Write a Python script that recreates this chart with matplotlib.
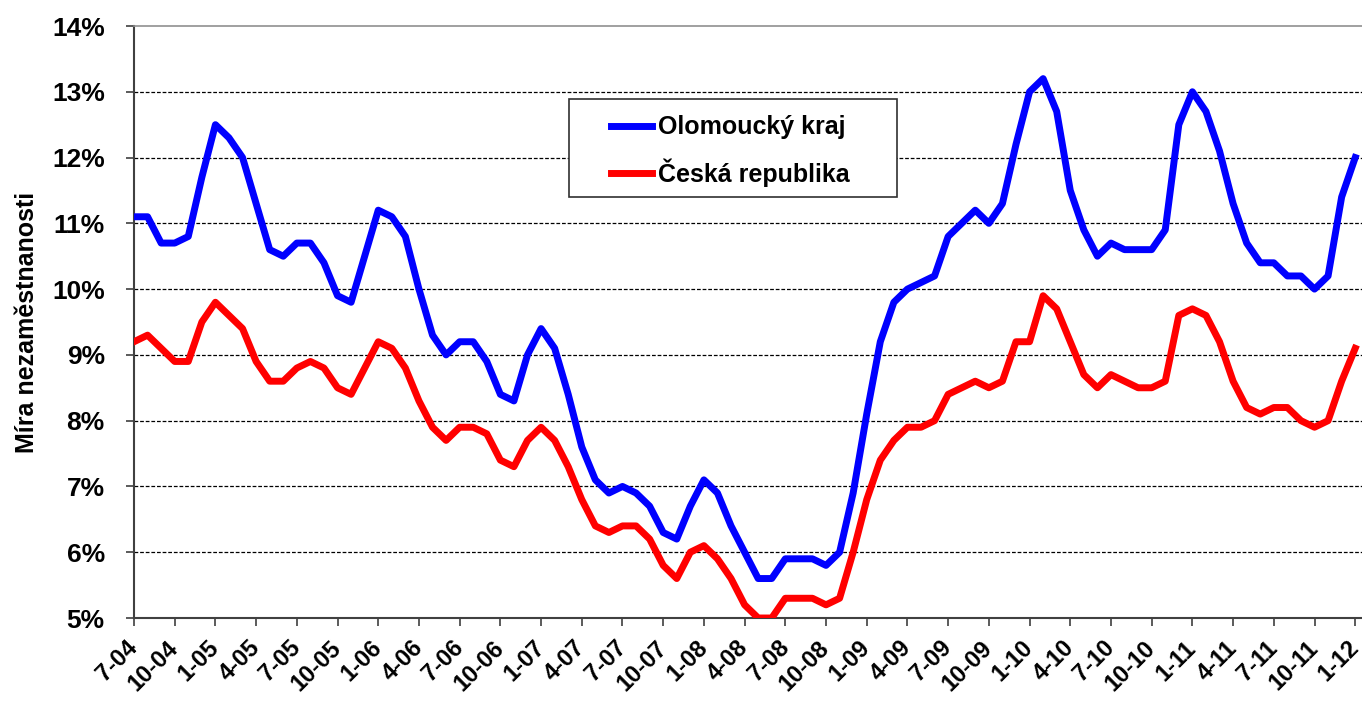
import matplotlib.pyplot as plt
import matplotlib.patches as mpatches
import numpy as np

plt.rcParams['font.family'] = ['Liberation Sans', 'DejaVu Sans']
plt.rcParams['font.weight'] = 'bold'

# monthly values 7-04 .. 1-12 (%)
olomoucky = [11.1, 11.1, 10.7, 10.7, 10.8, 11.7, 12.5, 12.3, 12.0, 11.3,
             10.6, 10.5, 10.7, 10.7, 10.4, 9.9, 9.8, 10.5, 11.2, 11.1,
             10.8, 10.0, 9.3, 9.0, 9.2, 9.2, 8.9, 8.4, 8.3, 9.0,
             9.4, 9.1, 8.4, 7.6, 7.1, 6.9, 7.0, 6.9, 6.7, 6.3,
             6.2, 6.7, 7.1, 6.9, 6.4, 6.0, 5.6, 5.6, 5.9, 5.9,
             5.9, 5.8, 6.0, 6.9, 8.1, 9.2, 9.8, 10.0, 10.1, 10.2,
             10.8, 11.0, 11.2, 11.0, 11.3, 12.2, 13.0, 13.2, 12.7, 11.5,
             10.9, 10.5, 10.7, 10.6, 10.6, 10.6, 10.9, 12.5, 13.0, 12.7,
             12.1, 11.3, 10.7, 10.4, 10.4, 10.2, 10.2, 10.0, 10.2, 11.4,
             12.0]
cr = [9.2, 9.3, 9.1, 8.9, 8.9, 9.5, 9.8, 9.6, 9.4, 8.9,
      8.6, 8.6, 8.8, 8.9, 8.8, 8.5, 8.4, 8.8, 9.2, 9.1,
      8.8, 8.3, 7.9, 7.7, 7.9, 7.9, 7.8, 7.4, 7.3, 7.7,
      7.9, 7.7, 7.3, 6.8, 6.4, 6.3, 6.4, 6.4, 6.2, 5.8,
      5.6, 6.0, 6.1, 5.9, 5.6, 5.2, 5.0, 5.0, 5.3, 5.3,
      5.3, 5.2, 5.3, 6.0, 6.8, 7.4, 7.7, 7.9, 7.9, 8.0,
      8.4, 8.5, 8.6, 8.5, 8.6, 9.2, 9.2, 9.9, 9.7, 9.2,
      8.7, 8.5, 8.7, 8.6, 8.5, 8.5, 8.6, 9.6, 9.7, 9.6,
      9.2, 8.6, 8.2, 8.1, 8.2, 8.2, 8.0, 7.9, 8.0, 8.6,
      9.1]
tick_labels = ['7-04', '10-04', '1-05', '4-05', '7-05', '10-05', '1-06', '4-06',
               '7-06', '10-06', '1-07', '4-07', '7-07', '10-07', '1-08', '4-08',
               '7-08', '10-08', '1-09', '4-09', '7-09', '10-09', '1-10', '4-10',
               '7-10', '10-10', '1-11', '4-11', '7-11', '10-11', '1-12']

x = np.arange(len(olomoucky))

fig = plt.figure(figsize=(13.62, 7.02), dpi=100)
ax = fig.add_axes([134 / 1362, 1 - 618 / 702, 1 - 134 / 1362, (618 - 26) / 702])

for yv in range(6, 14):
    ax.axhline(yv, color='black', lw=0.9, ls=(0, (3, 1.5)), zorder=1)

ax.plot(x, olomoucky, color='#0000ff', lw=5, label='Olomoucký kraj', zorder=3)
ax.plot(x, cr, color='#ff0000', lw=5, label='Česká republika', zorder=3)

ax.set_xlim(0, 90.5)
ax.set_ylim(5, 14)
ax.set_yticks(range(5, 15))
ax.set_yticklabels([f'{v}%' for v in range(5, 15)], fontsize=19, fontweight='bold')
ax.set_xticks(np.arange(0, 91, 3))
ax.set_xticklabels(tick_labels, fontsize=17, fontweight='bold', rotation=45,
                   ha='right', va='center', rotation_mode='anchor')
ax.tick_params(axis='y', length=6, width=1.2, color='#404040', pad=15)
ax.tick_params(axis='x', length=6, width=1.2, color='#404040', pad=13)

ax.spines['right'].set_visible(False)
ax.spines['top'].set_color('#909090')
ax.spines['top'].set_linewidth(1.2)
for s in ('left', 'bottom'):
    ax.spines[s].set_color('#404040')
    ax.spines[s].set_linewidth(1.5)

ax.set_ylabel('Míra nezaměstnanosti', fontsize=18, fontweight='bold')
ax.yaxis.set_label_coords(-0.077, 0.5)

# legend box
box = mpatches.Rectangle((0.3542, 0.7111), 0.2671, 0.1655, transform=ax.transAxes,
                         facecolor='white', edgecolor='#303030', lw=1.2, zorder=4)
ax.add_patch(box)
leg = ax.legend(loc='upper left', bbox_to_anchor=(0.3884, 0.849), fontsize=18,
                frameon=False, handlelength=1.64, handletextpad=0.25,
                labelspacing=0.75, borderpad=0, borderaxespad=0)
leg.set_zorder(5)
for t in leg.get_texts():
    t.set_fontweight('bold')

fig.savefig('out.png', dpi=100)
